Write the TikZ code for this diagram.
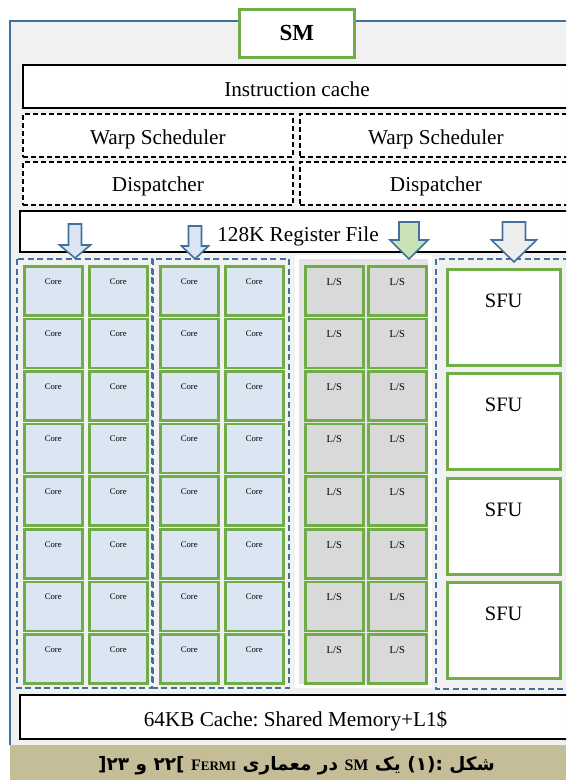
\documentclass[tikz,border=0pt]{standalone}
\usepackage{fontspec}
\setmainfont{Liberation Serif}
\newfontfamily\arabicfont[Script=Arabic]{DejaVu Sans}
\TeXXeTstate=1
\frenchspacing
\usetikzlibrary{calc}
\definecolor{lineblue}{HTML}{41719C}
\definecolor{cellgreen}{HTML}{70AD47}
\definecolor{corefill}{HTML}{DCE6F2}
\definecolor{lsfill}{HTML}{D9D9D9}
\definecolor{lsarea}{HTML}{E4E4E4}
\definecolor{bgfill}{HTML}{F1F1F1}
\definecolor{captan}{HTML}{C4BD97}
\definecolor{greenarrow}{HTML}{C9E2B8}
\definecolor{grayarrow}{HTML}{EDEDED}
\tikzset{
  bigtext/.style={font=\fontsize{21.2}{23}\selectfont, anchor=base, inner sep=0pt},
  solidbox/.style={draw=black, line width=2pt, fill=white, anchor=north west, inner sep=0pt},
  dashbox/.style={draw=black, line width=1.8pt, dash pattern=on 5pt off 3pt, fill=white, anchor=north west, inner sep=0pt},
  groupbox/.style={draw=lineblue, line width=2pt, dash pattern=on 6pt off 3.5pt},
  cellbox/.style={draw=cellgreen, line width=2.5pt, anchor=north west, inner sep=0pt, minimum width=58pt, minimum height=49pt},
  corecell/.style={cellbox, fill=corefill},
  lscell/.style={cellbox, fill=lsfill},
  sfucell/.style={draw=cellgreen, line width=2.5pt, anchor=north west, inner sep=0pt, minimum width=113pt, minimum height=96pt, fill=white},
  smalltext/.style={font=\fontsize{8.7}{9}\selectfont, inner sep=0pt, anchor=base},
  lstext/.style={font=\fontsize{10.5}{11}\selectfont, inner sep=0pt, anchor=base},
  sfutext/.style={font=\fontsize{20.5}{22}\selectfont, inner sep=0pt, anchor=base},
  arrowline/.style={draw=lineblue, line width=1.6pt, line join=miter},
}
\newcommand\blockarrow[7]{%
  \draw[arrowline, fill=#7] (#1-#3/2,#2) -- (#1+#3/2,#2) -- (#1+#3/2,#4) -- (#1+#5/2,#4) -- (#1,#6) -- (#1-#5/2,#4) -- (#1-#3/2,#4) -- cycle;}
\newcommand\latinbig{\rmfamily\bfseries\fontsize{16}{17}\selectfont}
\begin{document}
\begin{tikzpicture}[x=1pt,y=-1pt]
\useasboundingbox (0,0) rectangle (566,780);
\clip (0,0) rectangle (566,780);
\fill[white] (0,0) rectangle (566,780);
% outer frame
\fill[bgfill] (10,21) rectangle (590,745);
\draw[lineblue, line width=1.6pt] (590,21) -- (10,21) -- (10,745);
% SM title
\node[draw=cellgreen, line width=2.5pt, fill=white, anchor=north west, minimum width=115pt, minimum height=48pt, inner sep=0pt, font=\bfseries\fontsize{23}{25}\selectfont] (sm) at (238,8) {SM};
% instruction cache
\node[solidbox, minimum width=548pt, minimum height=43pt] (icache) at (22,64) {};
\node[bigtext] (icachet) at ($(icache.center)+(0,9.5)$) {Instruction cache};
% schedulers and dispatchers
\node[dashbox, minimum width=270pt, minimum height=43pt] (warpL) at (22,113) {};
\node[dashbox, minimum width=270pt, minimum height=43pt] (dispL) at (22,161) {};
\node[dashbox, minimum width=272pt, minimum height=43pt] (warpR) at (299,113) {};
\node[dashbox, minimum width=272pt, minimum height=43pt] (dispR) at (299,161) {};
\node[bigtext] (warpLt) at ($(warpL.center)+(0,9.5)$) {Warp Scheduler};
\node[bigtext] (warpRt) at ($(warpR.center)+(0,9.5)$) {Warp Scheduler};
\node[bigtext] (dispLt) at ($(dispL.center)+(0,8.5)$) {Dispatcher};
\node[bigtext] (dispRt) at ($(dispR.center)+(0,8.5)$) {Dispatcher};
% register file
\node[solidbox, minimum width=556pt, minimum height=41pt] (regfile) at (19,210) {};
\node[bigtext] (regfilet) at ($(regfile.center)+(0,9.5)$) {128K Register File};
% L/S area
\fill[white] (295,255) rectangle (432,688);
\fill[lsarea] (299,259) rectangle (428,684);
% groups
\draw[groupbox] (17,259) rectangle (152,688);
\draw[groupbox] (153,259) rectangle (289,688);
\draw[groupbox] (436,259) rectangle (590,689);
% cells
\foreach \r in {0,...,7}{
  \pgfmathsetmacro{\yy}{265+52.6*\r}
  \foreach \c/\xx in {1/23,2/88,3/159,4/224}{
    \node[corecell] (core\r\c) at (\xx,\yy) {};
    \node[smalltext] (corel\r\c) at ($(core\r\c.north)+(0,19)$) {Core};
  }
  \foreach \c/\xx in {1/304,2/367}{
    \node[lscell] (ls\r\c) at (\xx,\yy) {};
    \node[lstext] (lsl\r\c) at ($(ls\r\c.north)+(0,20)$) {L/S};
  }
}
\foreach \i/\yy in {1/268,2/372,3/477,4/581}{
  \node[sfucell] (sfu\i) at (446,\yy) {};
  \node[sfutext] (sful\i) at ($(sfu\i.north)+(0,39)$) {SFU};
}
% arrows
\blockarrow{75}{224}{13}{245}{31}{258}{corefill}
\blockarrow{195}{226}{13}{246}{27}{259}{corefill}
\blockarrow{409}{222}{20}{240}{38}{259}{greenarrow}
\blockarrow{514}{222}{23}{240}{45}{262}{grayarrow}
% shared memory
\node[solidbox, minimum width=551pt, minimum height=44pt] (shmem) at (19,694) {};
\node[bigtext] (shmemt) at ($(shmem.center)+(0,9)$) {64KB Cache: Shared Memory+L1\$};
% caption
\fill[captan] (10,745) rectangle (566,780);
\node[anchor=base, inner sep=0pt] (caption) at (296.5,770) {\arabicfont\bfseries\fontsize{18.5}{20}\selectfont {[}\beginR ۲۳\endR{} \beginR و\endR{} \beginR ۲۲\endR{]} {\latinbig F\fontsize{13}{14}\selectfont ERMI} \beginR معماری\endR{} \beginR در\endR{} {\latinbig SM} \beginR یک\endR{} :(۱) \beginR شکل\endR};
\end{tikzpicture}
\end{document}
